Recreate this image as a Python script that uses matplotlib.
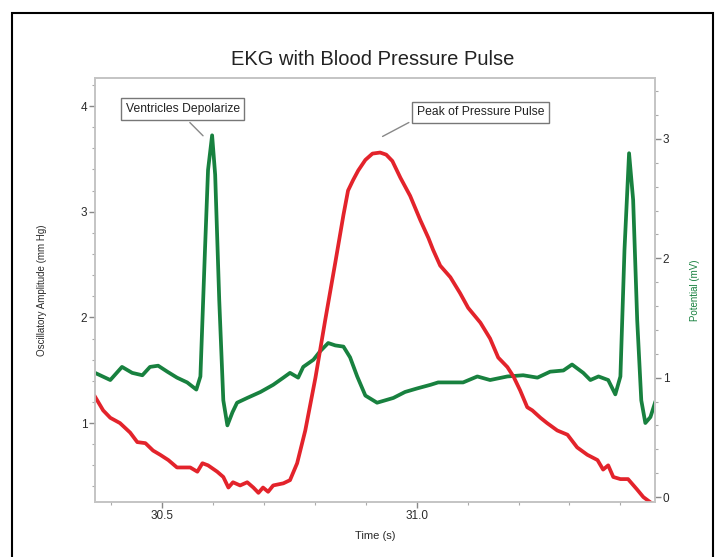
import matplotlib
matplotlib.use("Agg")
import matplotlib.pyplot as plt
from matplotlib.patches import Rectangle
from matplotlib.ticker import MultipleLocator, FixedLocator

plt.rcParams['font.family'] = ['Liberation Sans', 'DejaVu Sans']

# EKG trace (green, right axis, mV)
ekg_time = [30.368, 30.398, 30.421, 30.441, 30.461, 30.476, 30.492, 30.510, 30.529, 30.549,
            30.567, 30.575, 30.584, 30.590, 30.598, 30.604, 30.612, 30.620, 30.628, 30.638,
            30.647, 30.667, 30.693, 30.718, 30.738, 30.751, 30.767, 30.777, 30.797, 30.810,
            30.826, 30.840, 30.856, 30.869, 30.883, 30.899, 30.922, 30.954, 30.977, 31.001,
            31.027, 31.042, 31.066, 31.091, 31.119, 31.144, 31.178, 31.209, 31.237, 31.262,
            31.288, 31.305, 31.327, 31.341, 31.357, 31.376, 31.390, 31.400, 31.408, 31.417,
            31.425, 31.433, 31.441, 31.449, 31.459, 31.468]
ekg_mv = [1.04, 0.98, 1.09, 1.04, 1.02, 1.09, 1.10, 1.05, 1.00, 0.96,
          0.90, 1.01, 2.07, 2.74, 3.03, 2.70, 1.65, 0.81, 0.60, 0.71,
          0.79, 0.83, 0.88, 0.94, 1.00, 1.04, 1.00, 1.09, 1.15, 1.22,
          1.29, 1.27, 1.26, 1.17, 1.01, 0.85, 0.79, 0.83, 0.88, 0.91,
          0.94, 0.96, 0.96, 0.96, 1.01, 0.98, 1.01, 1.02, 1.00, 1.05,
          1.06, 1.11, 1.04, 0.98, 1.01, 0.98, 0.86, 1.01, 2.07, 2.88,
          2.49, 1.48, 0.81, 0.62, 0.67, 0.79]

# blood pressure pulse (red, left axis, mm Hg)
bp_time = [30.368, 30.384, 30.398, 30.417, 30.437, 30.451, 30.467, 30.482, 30.496, 30.512,
           30.529, 30.555, 30.569, 30.579, 30.590, 30.608, 30.620, 30.630, 30.639, 30.653,
           30.667, 30.679, 30.689, 30.698, 30.708, 30.718, 30.738, 30.751, 30.765, 30.781,
           30.801, 30.820, 30.840, 30.856, 30.865, 30.875, 30.885, 30.899, 30.913, 30.928,
           30.940, 30.952, 30.968, 30.987, 31.007, 31.023, 31.032, 31.046, 31.066, 31.085,
           31.101, 31.125, 31.144, 31.160, 31.178, 31.190, 31.203, 31.217, 31.227, 31.243,
           31.256, 31.276, 31.296, 31.315, 31.335, 31.355, 31.366, 31.376, 31.386, 31.400,
           31.415, 31.433, 31.445, 31.459]
bp_mmhg = [1.25, 1.12, 1.05, 1.00, 0.91, 0.82, 0.81, 0.74, 0.70, 0.65,
           0.58, 0.58, 0.54, 0.62, 0.60, 0.54, 0.49, 0.39, 0.44, 0.41,
           0.44, 0.39, 0.34, 0.39, 0.35, 0.41, 0.43, 0.46, 0.62, 0.93,
           1.43, 1.97, 2.52, 2.97, 3.20, 3.30, 3.39, 3.49, 3.55, 3.56,
           3.54, 3.48, 3.32, 3.15, 2.92, 2.75, 2.64, 2.49, 2.38, 2.23,
           2.09, 1.95, 1.80, 1.62, 1.53, 1.44, 1.31, 1.15, 1.12, 1.05,
           1.00, 0.93, 0.89, 0.77, 0.70, 0.65, 0.56, 0.60, 0.49, 0.47,
           0.47, 0.37, 0.30, 0.25]

x_ticks = [30.5, 31.0]
x_tick_labels = ['30.5', '31.0']
left_ticks = [1, 2, 3, 4]
right_ticks = [0, 1, 2, 3]

red = '#e3232b'
green = '#18813f'
spine_gray = '#c4c4c4'
text_gray = '#2a2a2a'

fig = plt.figure(figsize=(7.27, 5.57), dpi=100)
# black frame round the whole chart, open at the bottom edge
fig.patches.append(Rectangle((0.0165, -0.05), 0.9645, 1.0267, transform=fig.transFigure,
                             fill=False, edgecolor='black', linewidth=1.5))

ax = fig.add_axes([0.1307, 0.0987, 0.7703, 0.7612])
ax2 = ax.twinx()

ax2.plot(ekg_time, ekg_mv, color=green, linewidth=2.7, solid_joinstyle='round')
ax.plot(bp_time, bp_mmhg, color=red, linewidth=2.7, solid_joinstyle='round')
ax.set_zorder(ax2.get_zorder() + 1)
ax.patch.set_visible(False)

ax.set_xlim(30.368, 31.468)
ax.set_ylim(0.253, 4.265)
ax2.set_ylim(-0.042, 3.51)

ax.xaxis.set_major_locator(FixedLocator(x_ticks))
ax.set_xticklabels(x_tick_labels)
ax.xaxis.set_minor_locator(MultipleLocator(0.1))
ax.yaxis.set_major_locator(FixedLocator(left_ticks))
ax.yaxis.set_minor_locator(MultipleLocator(0.2))
ax2.yaxis.set_major_locator(FixedLocator(right_ticks))
ax2.yaxis.set_minor_locator(MultipleLocator(0.2))

for a in (ax, ax2):
    for s in a.spines.values():
        s.set_color(spine_gray)
        s.set_linewidth(1.2)
    a.tick_params(which='major', length=4, width=1, color='#888888',
                  labelsize=8.5, labelcolor=text_gray, pad=1.5)
    a.tick_params(which='minor', length=2.5, width=0.8, color='#aaaaaa')

ax.set_xlabel('Time (s)', fontsize=8, color=text_gray)
ax.xaxis.set_label_coords(0.5, -0.068)
ax.set_ylabel('Oscillatory Amplitude (mm Hg)', fontsize=7, color=text_gray)
ax.yaxis.set_label_coords(-0.0857, 0.5)
ax2.set_ylabel('Potential (mV)', fontsize=7, color=green)
ax2.yaxis.set_label_coords(1.0625, 0.5)

fig.text(0.512, 0.894, 'EKG with Blood Pressure Pulse', fontsize=14.5,
         ha='center', va='center', color='#222222')

box = dict(boxstyle='square,pad=0.4', facecolor='white', edgecolor='#777777', linewidth=1)
ax.annotate('Ventricles Depolarize', xy=(30.584, 3.70), xytext=(30.540, 3.97),
            fontsize=8.7, ha='center', va='center', color='#222222', bbox=box,
            arrowprops=dict(arrowstyle='-', color='#888888', lw=1, relpos=(0.5, 0)))
ax.annotate('Peak of Pressure Pulse', xy=(30.928, 3.70), xytext=(31.125, 3.94),
            fontsize=8.7, ha='center', va='center', color='#222222', bbox=box,
            arrowprops=dict(arrowstyle='-', color='#888888', lw=1, relpos=(0, 0)))

fig.savefig('out.png', dpi=100)
